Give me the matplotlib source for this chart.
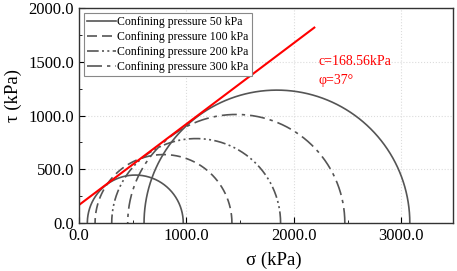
import numpy as np
import matplotlib
matplotlib.use("Agg")
import matplotlib.pyplot as plt
from matplotlib.ticker import MultipleLocator, FormatStrFormatter

plt.rcParams['font.family'] = ['Liberation Serif', 'DejaVu Serif']

# Mohr circles: minor and major principal stresses (kPa)
sigma3 = [77, 149, 304, 453, 605]
sigma1 = [970, 1423, 1876, 2474, 3079]
labels = ["Confining pressure 50 kPa", "Confining pressure 100 kPa",
          "Confining pressure 200 kPa", "Confining pressure 300 kPa", None]
styles = ['-', (0, (6, 3)), (0, (7, 2, 1.2, 2, 1.2, 2)), (0, (9, 3, 2, 3)), '-']

# Strength envelope
cohesion = 168.56
phi_deg = 37
env_sigma = [0, 2190]

fig = plt.figure(figsize=(4.57, 2.71), dpi=100)
ax = fig.add_axes([0.173, 0.177, 0.818, 0.793])

grey = '#555555'
theta = np.linspace(0, np.pi, 400)
for s3, s1, lab, ls in zip(sigma3, sigma1, labels, styles):
    c = (s1 + s3) / 2
    r = (s1 - s3) / 2
    ax.plot(c + r * np.cos(theta), r * np.sin(theta), color=grey, lw=1.2,
            linestyle=ls, label=lab)

xs = np.array(env_sigma, dtype=float)
ax.plot(xs, cohesion + np.tan(np.radians(phi_deg)) * xs, color='red', lw=1.5)

ax.text(2233, 1500, "c=%.2fkPa" % cohesion, color='red', fontsize=10, va='center')
ax.text(2233, 1331, "φ=%d°" % phi_deg, color='red', fontsize=10, va='center')

ax.set_xlim(0, 3480)
ax.set_ylim(0, 2000)
ax.xaxis.set_major_locator(MultipleLocator(1000))
ax.xaxis.set_minor_locator(MultipleLocator(500))
ax.yaxis.set_major_locator(MultipleLocator(500))
ax.yaxis.set_minor_locator(MultipleLocator(250))
ax.xaxis.set_major_formatter(FormatStrFormatter('%.1f'))
ax.yaxis.set_major_formatter(FormatStrFormatter('%.1f'))
ax.tick_params(which='both', direction='in', labelsize=12)
ax.tick_params(which='major', length=4)
ax.tick_params(which='minor', length=2)
ax.grid(True, which='major', color='#dcdcdc', linestyle=':', lw=0.8)
ax.set_axisbelow(True)
for sp in ax.spines.values():
    sp.set_color('#333333')
    sp.set_linewidth(1.0)

ax.set_xlabel("σ (kPa)", fontsize=13.5, va='center')
ax.set_ylabel("τ (kPa)", fontsize=13.5, va='center')
ax.xaxis.set_label_coords(0.521, -0.172)
ax.yaxis.set_label_coords(-0.176, 0.595)

leg = ax.legend(loc='upper left', fontsize=8.5, frameon=True, fancybox=False,
                edgecolor='#888888', framealpha=1, labelspacing=0.25,
                handlelength=2.4, handletextpad=0.15, borderpad=0.25,
                borderaxespad=0.45)
leg.get_frame().set_linewidth(0.8)

fig.savefig("out.png", dpi=100)
